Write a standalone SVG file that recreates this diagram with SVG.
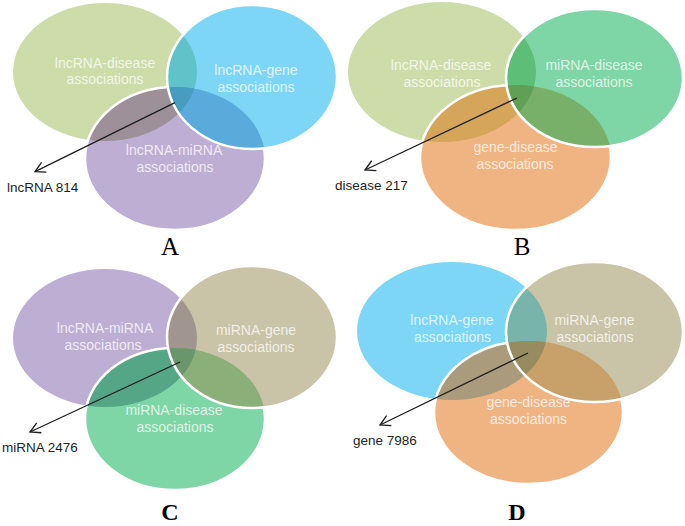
<svg xmlns="http://www.w3.org/2000/svg" xmlns:xlink="http://www.w3.org/1999/xlink" width="685" height="526" viewBox="0 0 685 526">
<style>
.st{fill:none;stroke:#fff;stroke-width:2.5}
.lb{font-family:"Liberation Sans",Arial,sans-serif;font-size:14px;fill:#fff;fill-opacity:0.75;text-anchor:middle}
.cnt{font-family:"Liberation Sans",Arial,sans-serif;font-size:13.5px;fill:#1e1e1e}
.ttl{font-family:"Liberation Serif","Times New Roman",serif;font-size:25px;fill:#000;text-anchor:middle}
.ttl2{font-family:"Liberation Serif","Times New Roman",serif;font-size:24px;font-weight:bold;fill:#000;text-anchor:middle}
.ar{stroke:#1e1e1e;stroke-width:1.3;fill:none}
</style>
<defs>
<marker id="head" markerUnits="userSpaceOnUse" markerWidth="16" markerHeight="16" refX="0" refY="0" viewBox="-12 -8 14 16" orient="auto">
<path d="M-10,-5.5 L0,0 L-10,5.5" fill="none" stroke="#1e1e1e" stroke-width="1.3"/>
</marker>
<ellipse id="eA1" cx="105" cy="72" rx="92" ry="69"/>
<ellipse id="eA2" cx="175" cy="158.5" rx="90" ry="71.5"/>
<ellipse id="eA3" cx="252" cy="77" rx="85" ry="72"/>
<ellipse id="eB1" cx="442" cy="72" rx="94" ry="70"/>
<ellipse id="eB2" cx="515.5" cy="157.5" rx="95.5" ry="72.5"/>
<ellipse id="eB3" cx="594.5" cy="78" rx="88.5" ry="69"/>
<ellipse id="eC1" cx="105" cy="338" rx="92" ry="69"/>
<ellipse id="eC2" cx="175" cy="419" rx="90" ry="71"/>
<ellipse id="eC3" cx="252" cy="337" rx="85" ry="71"/>
<ellipse id="eD1" cx="452" cy="331" rx="95" ry="69"/>
<ellipse id="eD2" cx="528.5" cy="412.5" rx="94.5" ry="71.5"/>
<ellipse id="eD3" cx="594.5" cy="332" rx="88.5" ry="70"/>
<clipPath id="cA1"><use href="#eA1"/></clipPath>
<clipPath id="cA2"><use href="#eA2"/></clipPath>
<clipPath id="cB1"><use href="#eB1"/></clipPath>
<clipPath id="cB2"><use href="#eB2"/></clipPath>
<clipPath id="cC1"><use href="#eC1"/></clipPath>
<clipPath id="cC2"><use href="#eC2"/></clipPath>
<clipPath id="cD1"><use href="#eD1"/></clipPath>
<clipPath id="cD2"><use href="#eD2"/></clipPath>
<mask id="mA3" maskUnits="userSpaceOnUse" x="0" y="0" width="685" height="526"><rect width="685" height="526" fill="#fff"/><use href="#eA3" fill="#000"/></mask>
<mask id="mB3" maskUnits="userSpaceOnUse" x="0" y="0" width="685" height="526"><rect width="685" height="526" fill="#fff"/><use href="#eB3" fill="#000"/></mask>
<mask id="mC3" maskUnits="userSpaceOnUse" x="0" y="0" width="685" height="526"><rect width="685" height="526" fill="#fff"/><use href="#eC3" fill="#000"/></mask>
<mask id="mD3" maskUnits="userSpaceOnUse" x="0" y="0" width="685" height="526"><rect width="685" height="526" fill="#fff"/><use href="#eD3" fill="#000"/></mask>
</defs>
<rect width="685" height="526" fill="#fff"/>

<!-- Panel A -->
<g id="panelA">
<g id="A-shapes">
<use id="A-lncRNA-disease-shape" href="#eA1" fill="#cedcaa"/>
<use id="A-lncRNA-miRNA-shape" href="#eA2" fill="#bdafd3"/>
<use id="A-lncRNA-gene-shape" href="#eA3" fill="#7dd6f6"/>
<g clip-path="url(#cA1)"><use href="#eA2" fill="#9d9098"/></g>
<g clip-path="url(#cA1)"><use href="#eA3" fill="#5fc3c9"/></g>
<g clip-path="url(#cA2)"><use href="#eA3" fill="#5aabdc"/></g>
<g clip-path="url(#cA1)"><g clip-path="url(#cA2)"><use href="#eA3" fill="#479cbf"/></g></g>
<use href="#eA2" class="st" mask="url(#mA3)"/>
<use href="#eA3" class="st"/>
</g>
<g id="A-lncRNA-disease"><text class="lb" x="105" y="68">lncRNA-disease</text><text class="lb" x="105" y="84">associations</text></g>
<g id="A-lncRNA-gene"><text class="lb" x="256" y="75">lncRNA-gene</text><text class="lb" x="256" y="92">associations</text></g>
<g id="A-lncRNA-miRNA"><text class="lb" x="174" y="155">lncRNA-miRNA</text><text class="lb" x="175" y="172">associations</text></g>
<g id="A-count"><text class="cnt" x="7" y="192">lncRNA 814</text></g>
<text class="ttl" x="170" y="255">A</text>
</g>

<!-- Panel B -->
<g id="panelB">
<g id="B-shapes">
<use id="B-lncRNA-disease-shape" href="#eB1" fill="#cedcaa"/>
<use id="B-gene-disease-shape" href="#eB2" fill="#f0b482"/>
<use id="B-miRNA-disease-shape" href="#eB3" fill="#7ed6a6"/>
<g clip-path="url(#cB1)"><use href="#eB2" fill="#d5a55a"/></g>
<g clip-path="url(#cB1)"><use href="#eB3" fill="#5dbf77"/></g>
<g clip-path="url(#cB2)"><use href="#eB3" fill="#78af69"/></g>
<g clip-path="url(#cB1)"><g clip-path="url(#cB2)"><use href="#eB3" fill="#5fa055"/></g></g>
<use href="#eB2" class="st" mask="url(#mB3)"/>
<use href="#eB3" class="st"/>
</g>
<g id="B-lncRNA-disease"><text class="lb" x="441" y="70">lncRNA-disease</text><text class="lb" x="442" y="87">associations</text></g>
<g id="B-miRNA-disease"><text class="lb" x="594" y="70">miRNA-disease</text><text class="lb" x="594" y="87">associations</text></g>
<g id="B-gene-disease"><text class="lb" x="515.5" y="152">gene-disease</text><text class="lb" x="515" y="169">associations</text></g>
<g id="B-count"><text class="cnt" x="335" y="190">disease 217</text></g>
<text class="ttl" x="522" y="255">B</text>
</g>

<!-- Panel C -->
<g id="panelC">
<g id="C-shapes">
<use id="C-lncRNA-miRNA-shape" href="#eC1" fill="#bdafd3"/>
<use id="C-miRNA-disease-shape" href="#eC2" fill="#7ed6a6"/>
<use id="C-miRNA-gene-shape" href="#eC3" fill="#c9c4a7"/>
<g clip-path="url(#cC1)"><use href="#eC2" fill="#55a587"/></g>
<g clip-path="url(#cC1)"><use href="#eC3" fill="#a0968f"/></g>
<g clip-path="url(#cC2)"><use href="#eC3" fill="#8baf78"/></g>
<g clip-path="url(#cC1)"><g clip-path="url(#cC2)"><use href="#eC3" fill="#69966a"/></g></g>
<use href="#eC2" class="st" mask="url(#mC3)"/>
<use href="#eC3" class="st"/>
</g>
<g id="C-lncRNA-miRNA"><text class="lb" x="105" y="333">lncRNA-miRNA</text><text class="lb" x="103" y="350">associations</text></g>
<g id="C-miRNA-gene"><text class="lb" x="256" y="335">miRNA-gene</text><text class="lb" x="256" y="352">associations</text></g>
<g id="C-miRNA-disease"><text class="lb" x="174" y="415">miRNA-disease</text><text class="lb" x="175" y="432">associations</text></g>
<g id="C-count"><text class="cnt" x="2" y="452">miRNA 2476</text></g>
<text class="ttl2" x="170" y="520">C</text>
</g>

<!-- Panel D -->
<g id="panelD">
<g id="D-shapes">
<use id="D-lncRNA-gene-shape" href="#eD1" fill="#7dd6f6"/>
<use id="D-gene-disease-shape" href="#eD2" fill="#f0b482"/>
<use id="D-miRNA-gene-shape" href="#eD3" fill="#c9c4a7"/>
<g clip-path="url(#cD1)"><use href="#eD2" fill="#aa9b7d"/></g>
<g clip-path="url(#cD1)"><use href="#eD3" fill="#78b4aa"/></g>
<g clip-path="url(#cD2)"><use href="#eD3" fill="#c8a06a"/></g>
<g clip-path="url(#cD1)"><g clip-path="url(#cD2)"><use href="#eD3" fill="#968c5f"/></g></g>
<use href="#eD2" class="st" mask="url(#mD3)"/>
<use href="#eD3" class="st"/>
</g>
<g id="D-lncRNA-gene"><text class="lb" x="452" y="325">lncRNA-gene</text><text class="lb" x="452.5" y="342">associations</text></g>
<g id="D-miRNA-gene"><text class="lb" x="594.5" y="325">miRNA-gene</text><text class="lb" x="595" y="342">associations</text></g>
<g id="D-gene-disease"><text class="lb" x="528.5" y="407">gene-disease</text><text class="lb" x="528.5" y="424">associations</text></g>
<g id="D-count"><text class="cnt" x="353" y="445">gene 7986</text></g>
<text class="ttl2" x="517" y="520">D</text>
</g>

<g id="connectors">
<line class="ar" x1="175" y1="102.7" x2="35" y2="171.7" marker-end="url(#head)"/>
<line class="ar" x1="517" y1="98" x2="365" y2="170" marker-end="url(#head)"/>
<line class="ar" x1="180" y1="362" x2="30" y2="432" marker-end="url(#head)"/>
<line class="ar" x1="528" y1="353" x2="380" y2="425" marker-end="url(#head)"/>
</g>
</svg>
